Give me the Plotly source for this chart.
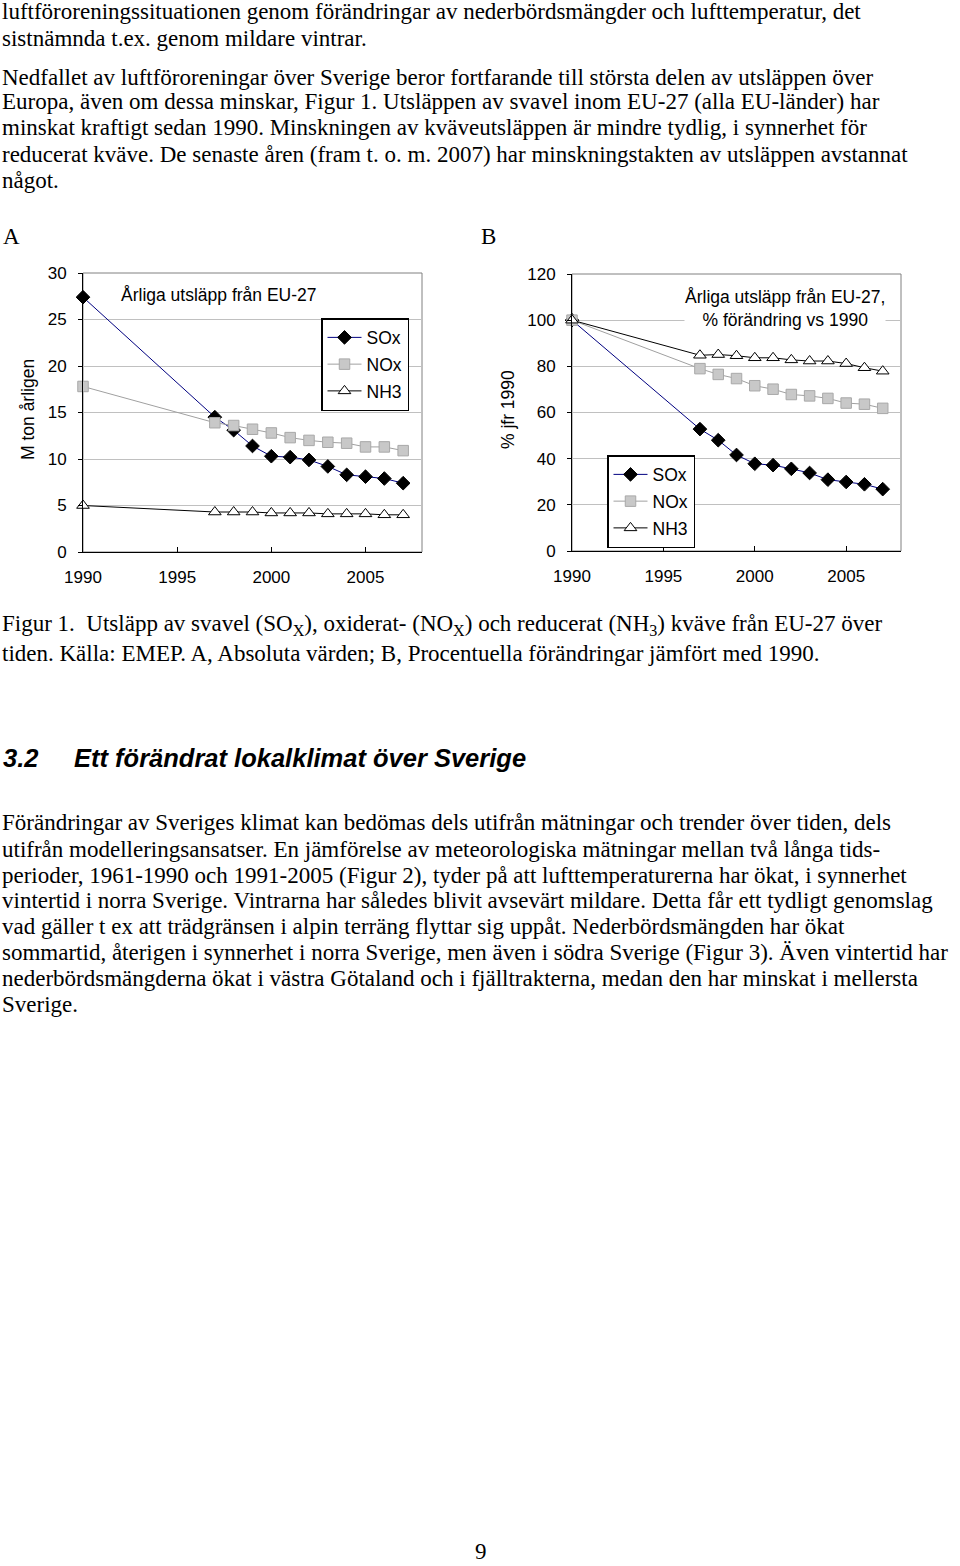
import plotly.graph_objects as go

W, H = 960, 1566

years_a = [1990, 1997, 1998, 1999, 2000, 2001, 2002, 2003, 2004, 2005, 2006, 2007]
sox_abs = [27.4, 14.5, 13.1, 11.4, 10.3, 10.2, 9.9, 9.2, 8.3, 8.1, 7.9, 7.4]
nox_abs = [17.8, 13.9, 13.6, 13.2, 12.8, 12.3, 12.0, 11.8, 11.7, 11.3, 11.3, 10.9]
nh3_abs = [5.0, 4.3, 4.3, 4.3, 4.2, 4.2, 4.2, 4.1, 4.1, 4.1, 4.0, 4.0]

sox_pct = [100, 52.8, 48.0, 41.6, 37.8, 37.2, 35.6, 33.8, 30.9, 29.9, 28.9, 26.8]
nox_pct = [100, 79.0, 76.5, 74.7, 71.6, 70.1, 67.8, 67.2, 66.1, 64.1, 63.6, 61.8]
nh3_pct = [100, 84.8, 85.1, 84.6, 83.7, 83.7, 82.8, 82.3, 82.3, 81.2, 79.4, 77.9]

series_names = ["SOx", "NOx", "NH3"]
x_ticks = [1990, 1995, 2000, 2005]

para1 = [
    "luftföroreningssituationen genom förändringar av nederbördsmängder och lufttemperatur, det",
    "sistnämnda t.ex. genom mildare vintrar.",
]
para2 = [
    "Nedfallet av luftföroreningar över Sverige beror fortfarande till största delen av utsläppen över",
    "Europa, även om dessa minskar, Figur 1. Utsläppen av svavel inom EU-27 (alla EU-länder) har",
    "minskat kraftigt sedan 1990. Minskningen av kväveutsläppen är mindre tydlig, i synnerhet för",
    "reducerat kväve. De senaste åren (fram t. o. m. 2007) har minskningstakten av utsläppen avstannat",
    "något.",
]
caption = [
    "Figur 1.  Utsläpp av svavel (SO<sub>X</sub>), oxiderat- (NO<sub>X</sub>) och reducerat (NH<sub>3</sub>) kväve från EU-27 över",
    "tiden. Källa: EMEP. A, Absoluta värden; B, Procentuella förändringar jämfört med 1990.",
]
para3 = [
    "Förändringar av Sveriges klimat kan bedömas dels utifrån mätningar och trender över tiden, dels",
    "utifrån modelleringsansatser. En jämförelse av meteorologiska mätningar mellan två långa tids-",
    "perioder, 1961-1990 och 1991-2005 (Figur 2), tyder på att lufttemperaturerna har ökat, i synnerhet",
    "vintertid i norra Sverige. Vintrarna har således blivit avsevärt mildare. Detta får ett tydligt genomslag",
    "vad gäller t ex att trädgränsen i alpin terräng flyttar sig uppåt. Nederbördsmängden har ökat",
    "sommartid, återigen i synnerhet i norra Sverige, men även i södra Sverige (Figur 3). Även vintertid har",
    "nederbördsmängderna ökat i västra Götaland och i fjälltrakterna, medan den har minskat i mellersta",
    "Sverige.",
]


def px(x):
    return x / W


def py(y):
    return 1 - y / H


SERIF = "Liberation Serif"
SANS = "Liberation Sans"
CF = 17.5  # chart font size

styles = {
    "SOx": dict(line=dict(color="#000080", width=1),
                marker=dict(symbol="diamond", size=10.5, color="black",
                            line=dict(color="black", width=1))),
    "NOx": dict(line=dict(color="#a0a0a0", width=1),
                marker=dict(symbol="square", size=10.5, color="#c8c8c8",
                            line=dict(color="#a8a8a8", width=1))),
    "NH3": dict(line=dict(color="black", width=1),
                marker=dict(symbol="triangle-up", size=11, color="white",
                            line=dict(color="black", width=1))),
}

fig = go.Figure()

for name, vals in zip(series_names, [sox_abs, nox_abs, nh3_abs]):
    fig.add_trace(go.Scatter(x=years_a, y=vals, name=name, mode="lines+markers",
                             xaxis="x", yaxis="y", legend="legend", legendgroup="a" + name,
                             cliponaxis=False, **styles[name]))
for name, vals in zip(series_names, [sox_pct, nox_pct, nh3_pct]):
    fig.add_trace(go.Scatter(x=years_a, y=vals, name=name, mode="lines+markers",
                             xaxis="x2", yaxis="y2", legend="legend2", legendgroup="b" + name,
                             cliponaxis=False, **styles[name]))

axis_font = dict(family=SANS, size=17, color="black")
xcommon = dict(range=[1990, 2008], tickvals=x_ticks, ticks="inside", ticklen=5,
               tickcolor="black", showline=True, linecolor="black", linewidth=1,
               showgrid=False, zeroline=False, tickfont=axis_font, ticklabelstandoff=10)
ycommon = dict(ticks="outside", ticklen=4, tickcolor="black", showline=True,
               linecolor="black", linewidth=1, showgrid=True, gridcolor="#c0c0c0",
               gridwidth=1, zeroline=False, tickfont=axis_font, ticklabelstandoff=8)

legend_common = dict(xanchor="left", yanchor="top", bgcolor="white",
                     bordercolor="black", borderwidth=1.5,
                     font=dict(family=SANS, size=CF, color="black"),
                     tracegroupgap=1, itemwidth=34)

fig.update_layout(
    width=W, height=H, margin=dict(l=0, r=0, t=0, b=0, autoexpand=False),
    paper_bgcolor="white", plot_bgcolor="white",
    xaxis=dict(domain=[px(83), px(422)], anchor="y", **xcommon),
    yaxis=dict(domain=[py(552), py(273)], anchor="x", range=[0, 30], dtick=5, **ycommon),
    xaxis2=dict(domain=[px(572), px(901)], anchor="y2", **xcommon),
    yaxis2=dict(domain=[py(551), py(274)], anchor="x2", range=[0, 120], dtick=20, **ycommon),
    legend=dict(x=px(321), y=py(318), **legend_common),
    legend2=dict(x=px(607), y=py(455), **legend_common),
    showlegend=True,
)

# gray top/right frame of each plot area
for xr, yr in [("x domain", "y domain"), ("x2 domain", "y2 domain")]:
    fig.add_shape(type="rect", xref=xr, yref=yr, x0=0, x1=1, y0=0, y1=1,
                  line=dict(color="#808080", width=1), layer="below")

ann = []


def text_line(txt, x, y, size=23, family=SERIF, anchor="left", **kw):
    ann.append(dict(text=txt, x=px(x), y=py(y), xref="paper", yref="paper",
                    xanchor=anchor, yanchor="middle", showarrow=False,
                    font=dict(family=family, size=size, color="black"), **kw))


for t, y in zip(para1, [12, 38]):
    text_line(t, 0, y)
for t, y in zip(para2, [77, 102, 128, 155, 181]):
    text_line(t, 0, y)
text_line("A", 1, 237)
text_line("B", 479, 237)
for t, y in zip(caption, [625, 653]):
    text_line(t, 0, y)
text_line("<b><i>3.2</i></b>", 1, 758, size=25.5, family=SANS)
text_line("<b><i>Ett förändrat lokalklimat över Sverige</i></b>", 72, 758, size=25.5, family=SANS)
for t, y in zip(para3, [823, 849, 875, 900, 926, 952, 978, 1004]):
    text_line(t, 0, y)
text_line("9", 481, 1551, size=23, anchor="center")

# chart texts
text_line("M ton årligen", 28, 410, size=CF, family=SANS, anchor="center", textangle=-90)
text_line("% jfr 1990", 508, 410, size=CF, family=SANS, anchor="center", textangle=-90)
text_line("Årliga utsläpp från EU-27", 219, 295, size=CF, family=SANS, anchor="center")
text_line("Årliga utsläpp från EU-27,<br>% förändring vs 1990", 785, 308, size=CF,
          family=SANS, anchor="center", bgcolor="white", borderpad=0)

fig.update_layout(annotations=ann)
fig.write_html("out.html", config={"displayModeBar": False},
               post_script="document.body.style.margin='0';document.body.style.overflow='hidden';")
